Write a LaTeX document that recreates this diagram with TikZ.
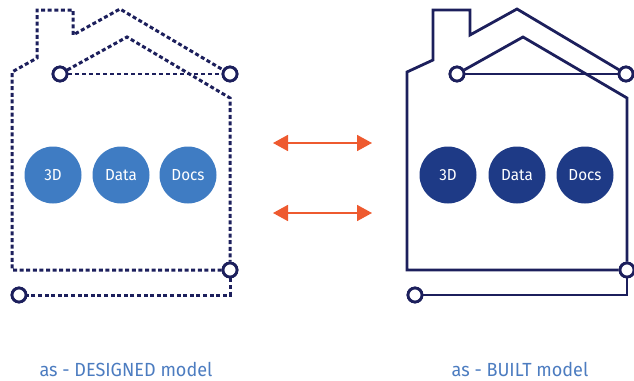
\documentclass[tikz,border=0pt]{standalone}
\usepackage{fontspec}
\setmainfont[FakeStretch=0.95]{Fira Sans}
\usetikzlibrary{arrows.meta}
\definecolor{navy}{HTML}{1C1F5C}
\definecolor{lblue}{HTML}{3F7CC3}
\definecolor{dblue}{HTML}{1E3A86}
\definecolor{arr}{HTML}{EE5A2F}
\definecolor{lbl}{HTML}{4C7CC0}
\begin{document}
\begin{tikzpicture}[x=1pt,y=-1pt,
 ring/.style={circle,draw=navy,line width=2.8pt,fill=white,minimum size=14pt,inner sep=0pt},
 blob/.style={circle,minimum size=57pt,inner sep=0pt,text=white,font=\fontsize{16}{18}\selectfont},
 dl/.style={draw=navy,line width=3pt,dash pattern=on 4pt off 2.6pt},
 dthin/.style={draw=navy,line width=1.5pt,dash pattern=on 4pt off 3pt},
 sl/.style={draw=navy,line width=2.8pt,line join=miter},
 sthin/.style={draw=navy,line width=1.8pt},
 dbl/.style={draw=arr,line width=1.7pt,{Triangle[length=15pt,width=16pt]}-{Triangle[length=15pt,width=16pt]}},
 lab/.style={text=lbl,font=\fontsize{19}{22}\selectfont}]
\useasboundingbox (0,0) rectangle (634,380);

% ---------- left house (as designed) ----------
\coordinate (La) at (12,270);
\coordinate (Lb) at (12,72);
\coordinate (Lc) at (37,58);
\coordinate (Ld) at (37,10);
\coordinate (Le) at (73,10);
\coordinate (Lf) at (73,35);
\coordinate (Lg) at (120,9);
\coordinate (Lh) at (127,37);
\coordinate (Li) at (230,98);
\coordinate (Lj) at (230,295);
\node[ring] (L1) at (60,74) {};
\node[ring] (L2) at (230,74) {};
\node[ring] (L3) at (230,270) {};
\node[ring] (L4) at (19,295) {};
\path[dl] (L3) -- (La) -- (Lb) -- (Lc) -- (Ld) -- (Le) -- (Lf) -- (Lg) -- (L2);
\path[dl] (L1) -- (Lh) -- (Li) -- (L3);
\path[dl] (L3) -- (Lj) -- (L4);
\path[dthin] (L1) -- (L2);
\node[ring] at (60,74) {};
\node[ring] at (230,74) {};
\node[ring] at (230,270) {};
\node[ring] at (19,295) {};
\node[blob,fill=lblue] (L3D) at (53,175) {3D};
\node[blob,fill=lblue] (LData) at (121,175) {Data};
\node[blob,fill=lblue] (LDocs) at (188,175) {Docs};
\node[lab] (Llab) at (126,369) {as - DESIGNED model};

% ---------- right house (as built) ----------
\coordinate (Ra) at (407,270);
\coordinate (Rb) at (407,72);
\coordinate (Rc) at (433,60);
\coordinate (Rd) at (433,10);
\coordinate (Re) at (470,10);
\coordinate (Rf) at (470,35);
\coordinate (Rg) at (517,9);
\coordinate (Rh) at (523,37);
\coordinate (Ri) at (627,98);
\coordinate (Rj) at (627,295);
\node[ring] (R1) at (457,74) {};
\node[ring] (R2) at (626,74) {};
\node[ring] (R3) at (627,270) {};
\node[ring] (R4) at (415,295) {};
\path[sl] (R3) -- (Ra) -- (Rb) -- (Rc) -- (Rd) -- (Re) -- (Rf) -- (Rg) -- (R2);
\path[sl] (R1) -- (Rh) -- (Ri) -- (R3);
\path[sl] (R3) -- (Rj) -- (R4);
\path[sthin] (R1) -- (R2);
\node[ring] at (457,74) {};
\node[ring] at (626,74) {};
\node[ring] at (627,270) {};
\node[ring] at (415,295) {};
\node[blob,fill=dblue] (R3D) at (448,175) {3D};
\node[blob,fill=dblue] (RData) at (517,175) {Data};
\node[blob,fill=dblue] (RDocs) at (585,175) {Docs};
\node[lab] (Rlab) at (520,369) {as - BUILT model};

% ---------- arrows ----------
\coordinate (A1) at (273,143);
\coordinate (A2) at (372,143);
\coordinate (B1) at (273,213);
\coordinate (B2) at (372,213);
\draw[dbl] (A1) -- (A2);
\draw[dbl] (B1) -- (B2);
\end{tikzpicture}
\end{document}
